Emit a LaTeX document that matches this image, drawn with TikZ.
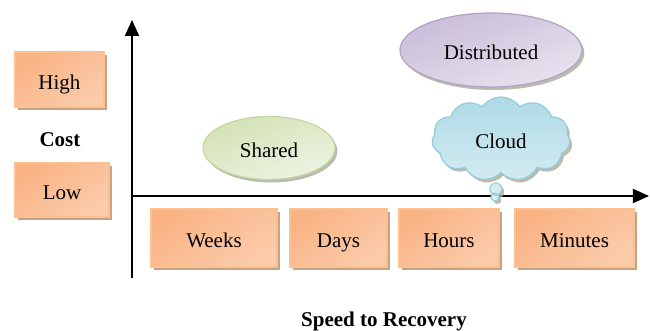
\documentclass[tikz,border=0pt]{standalone}
\usepackage{fontspec}
\setmainfont{Liberation Serif}
\usetikzlibrary{shapes.geometric,shapes.callouts,shapes.symbols,shadows,arrows.meta}

\definecolor{boxdark}{HTML}{F9B384}
\definecolor{boxlight}{HTML}{FEEFE4}
\definecolor{boxedge}{HTML}{FAC090}
\definecolor{boxshadow}{HTML}{C6A286}
\definecolor{greenfill}{HTML}{D3E2B6}
\definecolor{greenlight}{HTML}{EDF3E2}
\definecolor{greenedge}{HTML}{C3D69B}
\definecolor{purplefill}{HTML}{C9BDD8}
\definecolor{purplelight}{HTML}{E8E3EF}
\definecolor{purpleedge}{HTML}{B3A2C7}
\definecolor{cloudfill}{HTML}{AEDAE6}
\definecolor{cloudlight}{HTML}{DDEFF4}
\definecolor{cloudedge}{HTML}{93CDDD}
\definecolor{grayshadow}{HTML}{A9A99A}

\begin{document}
\begin{tikzpicture}[x=0.5pt,y=-0.5pt,
  every node/.style={font=\fontsize{10.5}{12}\selectfont},
  label/.style={font=\fontsize{10.5}{12}\selectfont\bfseries},
  axis/.style={line width=1pt,-{Triangle[length=8pt,width=7pt]}},
  box/.style={rectangle,draw=boxedge,line width=0.6pt,
    top color=boxdark,middle color=boxlight,bottom color=boxdark!60!boxlight,shading angle=35,
    drop shadow={shadow xshift=1.3pt,shadow yshift=-1.6pt,fill=boxshadow,opacity=1},
    minimum height=29pt,inner sep=0pt,text height=10pt,text depth=0pt},
  blob/.style={ellipse,line width=0.6pt,inner sep=0pt,text height=10pt,text depth=0pt,
    drop shadow={shadow xshift=1.2pt,shadow yshift=-1.5pt,fill=grayshadow,opacity=0.8}}]
\useasboundingbox (0,0) rectangle (650,331);

% axes
\coordinate (orig) at (132,196);
\coordinate (ytop) at (132,20);
\coordinate (ybot) at (132,278);
\coordinate (xend) at (649,196);
\draw[line width=1pt] (orig) -- (ybot);
\draw[axis] (orig) -- (ytop);
\draw[axis] (orig) -- (xend);

% cost side
\node[box,minimum width=44.5pt,minimum height=27.5pt] (high) at (59.5,79.5) {High};
\node[label] (cost) at (60,140) {Cost};
\node[box,minimum width=47pt,minimum height=27pt] (low) at (62,190) {Low};

% speed side
\node[box,minimum width=63pt] (weeks) at (214,238) {Weeks};
\node[box,minimum width=48.5pt] (days) at (338.5,238) {Days};
\node[box,minimum width=50pt] (hours) at (449,238) {Hours};
\node[box,minimum width=59.5pt] (minutes) at (574.5,238) {Minutes};
\node[label] (speed) at (384,321) {Speed to Recovery};

% options
\node[blob,draw=greenedge,top color=greenfill,bottom color=greenlight,shading angle=20,
  minimum width=66pt,minimum height=31.5pt] (shared) at (269,148) {Shared};
\node[blob,draw=purpleedge,top color=purplefill,bottom color=purplelight,shading angle=20,
  minimum width=91pt,minimum height=37pt] (distributed) at (491,50) {Distributed};
\coordinate (tail) at (495,197);
\node[cloud callout,draw=cloudedge,line width=0.6pt,top color=cloudfill,bottom color=cloudlight,
  cloud puffs=11,cloud puff arc=110,aspect=1.6,inner sep=0pt,text height=10pt,text depth=0pt,
  minimum width=69pt,minimum height=42pt,
  callout absolute pointer=(tail),callout pointer segments=2,
  callout pointer start size=8pt,callout pointer end size=4pt,
  drop shadow={shadow xshift=1.2pt,shadow yshift=-1.5pt,fill=grayshadow,opacity=0.8}]
  (cloud) at (501,139) {Cloud};
\end{tikzpicture}
\end{document}
